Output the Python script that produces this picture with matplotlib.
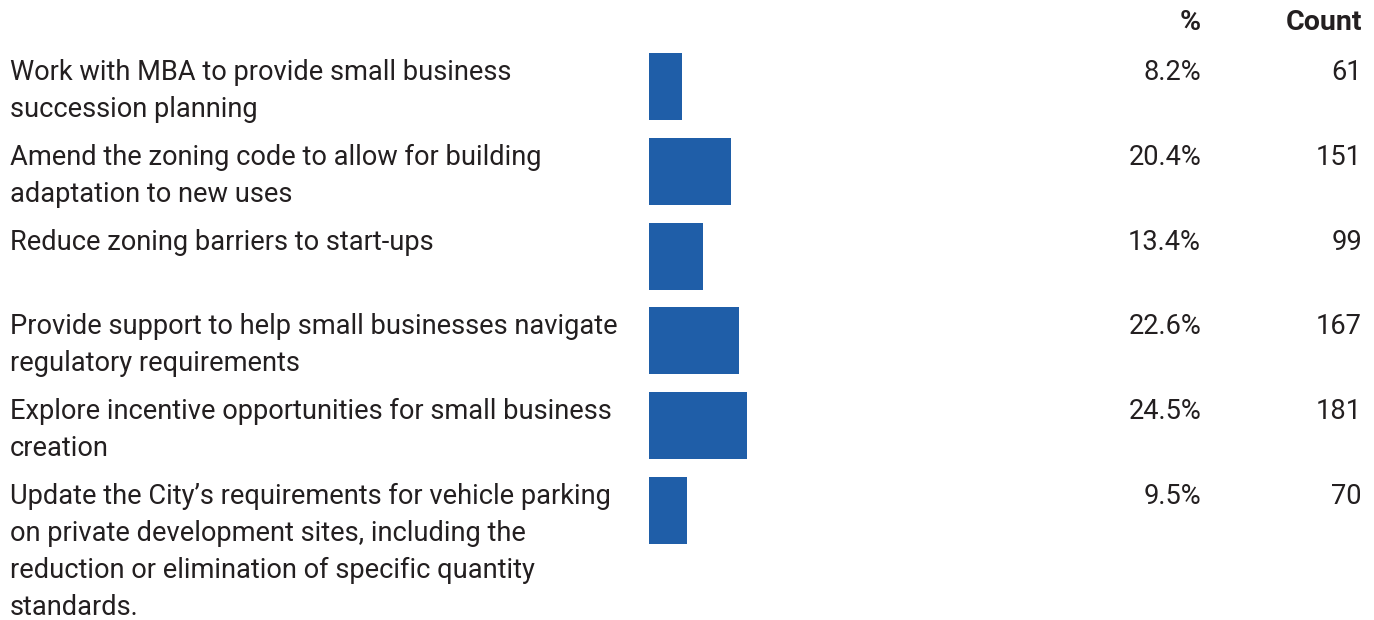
import matplotlib
matplotlib.use("Agg")
from matplotlib import pyplot as plt
from matplotlib.transforms import blended_transform_factory

labels = [
    "Work with MBA to provide small business\nsuccession planning",
    "Amend the zoning code to allow for building\nadaptation to new uses",
    "Reduce zoning barriers to start-ups",
    "Provide support to help small businesses navigate\nregulatory requirements",
    "Explore incentive opportunities for small business\ncreation",
    "Update the City\u2019s requirements for vehicle parking\non private development sites, including the\nreduction or elimination of specific quantity\nstandards.",
]
percents = [8.2, 20.4, 13.4, 22.6, 24.5, 9.5]
counts = [61, 151, 99, 167, 181, 70]

W, H = 1374, 620
plt.rcParams['font.family'] = ['Roboto', 'DejaVu Sans']
text_color = '#231f20'
bar_color = '#1f5ea8'
fs = 19.6

fig = plt.figure(figsize=(W / 100, H / 100), dpi=100)
# bar area: 100% spans 400 px starting at x=649
top, bottom = 44.0, 553.0
ax = fig.add_axes([649 / W, (H - bottom) / H, 400 / W, (bottom - top) / H])
ax.set_xlim(0, 100)
ax.set_ylim(len(labels) - 0.5, -0.5)
ax.axis('off')

bh = 0.79
ypos = list(range(len(labels)))
ax.barh(ypos, percents, height=bh, color=bar_color, align='center')

tr = blended_transform_factory(fig.transFigure, ax.transData)
for i, (lab, p, c) in enumerate(zip(labels, percents, counts)):
    y = i - bh / 2 + 0.07
    fig.text(10 / W, y, lab, transform=tr, ha='left', va='top',
             fontsize=fs, color=text_color, linespacing=1.47)
    fig.text(1201 / W, y, f"{p}%", transform=tr, ha='right', va='top',
             fontsize=fs, color=text_color)
    fig.text(1362 / W, y, f"{c}", transform=tr, ha='right', va='top',
             fontsize=fs, color=text_color)

fig.text(1201 / W, 1 - 22 / H, "%", ha='right', va='center', fontsize=20.5,
         fontweight='bold', color=text_color)
fig.text(1362 / W, 1 - 22 / H, "Count", ha='right', va='center', fontsize=20.5,
         fontweight='bold', color=text_color)

fig.savefig('out.png', dpi=100, facecolor='white')
